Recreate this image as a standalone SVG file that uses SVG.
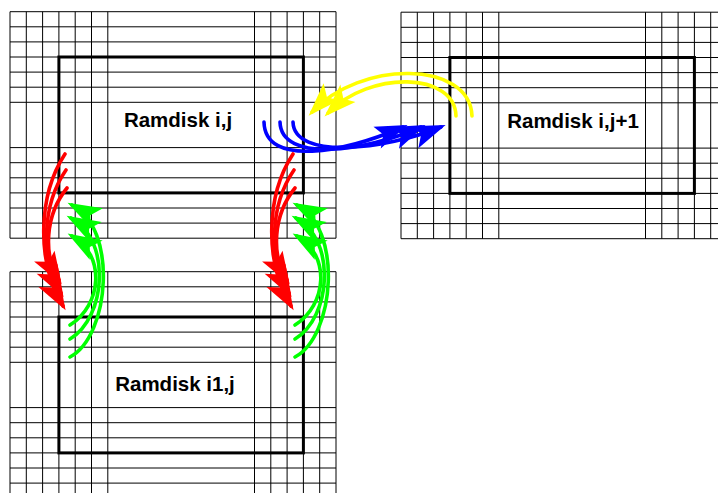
<svg xmlns="http://www.w3.org/2000/svg" xmlns:xlink="http://www.w3.org/1999/xlink" width="718" height="493" viewBox="0 0 718 493">
  <style>
    .grid { fill: none; stroke: #000; stroke-width: 1; }
    .frame { fill: none; stroke: #000; stroke-width: 3; }
    .label { font-family: "Liberation Sans", Arial, sans-serif; font-weight: bold; font-size: 20.5px; text-anchor: middle; fill: #000; }
    .flow { fill: none; stroke-width: 3.6; stroke-linecap: round; }
    .red { stroke: #ff0000; }
    .green { stroke: #00ff00; }
    .blue { stroke: #0000ff; }
    .yellow { stroke: #ffff00; }
  </style>
  <defs>
    <!-- 20 x 15 cell grid with the middle rows/columns left open -->
    <path id="ramdisk-grid" class="grid" d="
      M0,0 V226.5 M16.3,0 V226.5 M32.6,0 V226.5 M48.9,0 V226.5 M65.2,0 V226.5 M81.5,0 V226.5 M97.8,0 V226.5
      M244.5,0 V226.5 M260.8,0 V226.5 M277.1,0 V226.5 M293.4,0 V226.5 M309.7,0 V226.5 M326,0 V226.5
      M0,0 H326 M0,15.1 H326 M0,30.2 H326 M0,45.3 H326 M0,60.4 H326 M0,75.5 H326 M0,90.6 H326
      M0,135.9 H326 M0,151 H326 M0,166.1 H326 M0,181.2 H326 M0,196.3 H326 M0,211.4 H326 M0,226.5 H326"/>
    <marker id="head-red" viewBox="-34 -16 42 32" refX="0" refY="0" markerWidth="42" markerHeight="32" markerUnits="userSpaceOnUse" orient="auto">
      <path d="M5,0 L-27,-12 L-21,-1 L-29,11 Z" fill="#ff0000"/>
    </marker>
    <marker id="head-green" viewBox="-34 -16 42 32" refX="0" refY="0" markerWidth="42" markerHeight="32" markerUnits="userSpaceOnUse" orient="auto">
      <path d="M5,0 L-27,-12 L-21,-1 L-29,11 Z" fill="#00ff00"/>
    </marker>
    <marker id="head-blue" viewBox="-34 -16 42 32" refX="0" refY="0" markerWidth="42" markerHeight="32" markerUnits="userSpaceOnUse" orient="auto">
      <path d="M5,0 L-27,-12 L-21,-1 L-29,11 Z" fill="#0000ff"/>
    </marker>
    <marker id="head-yellow" viewBox="-34 -16 42 32" refX="0" refY="0" markerWidth="42" markerHeight="32" markerUnits="userSpaceOnUse" orient="auto">
      <path d="M5,0 L-27,-12 L-21,-1 L-29,11 Z" fill="#ffff00"/>
    </marker>
  </defs>

  <rect width="718" height="493" fill="#fff"/>

  <g id="ramdisk-i-j">
    <use xlink:href="#ramdisk-grid" transform="translate(10,11.7)"/>
    <rect class="frame" x="58.9" y="57" width="244.5" height="135.9"/>
    <text class="label" x="178" y="127">Ramdisk i,j</text>
  </g>

  <g id="ramdisk-i-j1">
    <use xlink:href="#ramdisk-grid" transform="translate(401,12.2)"/>
    <rect class="frame" x="449.9" y="57.5" width="244.5" height="135.9"/>
    <text class="label" x="573" y="128">Ramdisk i,j+1</text>
  </g>

  <g id="ramdisk-i1-j">
    <use xlink:href="#ramdisk-grid" transform="translate(10,271.7)"/>
    <rect class="frame" x="58.9" y="317" width="244.5" height="135.9"/>
    <text class="label" x="175" y="391">Ramdisk i1,j</text>
  </g>

  <g id="connectors">
    <!-- i,j+1 to i,j -->
    <path class="flow yellow" d="M472,116 C470,60 360,60 312,112" marker-end="url(#head-yellow)"/>
    <path class="flow yellow" d="M456,116 C455,72 370,70 328,113" marker-end="url(#head-yellow)"/>
    <!-- i,j to i,j+1 -->
    <path class="flow blue" d="M264,122 C265,168 345,152 403,127" marker-end="url(#head-blue)"/>
    <path class="flow blue" d="M280,122 C281,163 365,152 421,127" marker-end="url(#head-blue)"/>
    <path class="flow blue" d="M293,122 C294,160 385,150 441,127" marker-end="url(#head-blue)"/>
    <!-- i,j to i1,j, left side -->
    <path class="flow red" d="M65,154 C38,195 36,262 63,306" marker-end="url(#head-red)"/>
    <path class="flow red" d="M66,170 C42,205 40,258 61,293" marker-end="url(#head-red)"/>
    <path class="flow red" d="M67,188 C45,215 43,255 59,280" marker-end="url(#head-red)"/>
    <!-- i1,j to i,j, left side -->
    <path class="flow green" d="M70,357 C110,336 118,228 72,205" marker-end="url(#head-green)"/>
    <path class="flow green" d="M70,339 C106,318 112,240 71,218" marker-end="url(#head-green)"/>
    <path class="flow green" d="M70,325 C102,305 106,255 72,236" marker-end="url(#head-green)"/>
    <!-- i,j to i1,j, right side -->
    <path class="flow red" d="M293,154 C266,195 264,262 291,306" marker-end="url(#head-red)"/>
    <path class="flow red" d="M294,170 C270,205 268,258 289,293" marker-end="url(#head-red)"/>
    <path class="flow red" d="M295,188 C273,215 271,255 287,280" marker-end="url(#head-red)"/>
    <!-- i1,j to i,j, right side -->
    <path class="flow green" d="M295,357 C335,336 343,228 297,205" marker-end="url(#head-green)"/>
    <path class="flow green" d="M295,339 C331,318 337,240 296,218" marker-end="url(#head-green)"/>
    <path class="flow green" d="M295,325 C327,305 331,255 297,236" marker-end="url(#head-green)"/>
  </g>
</svg>
